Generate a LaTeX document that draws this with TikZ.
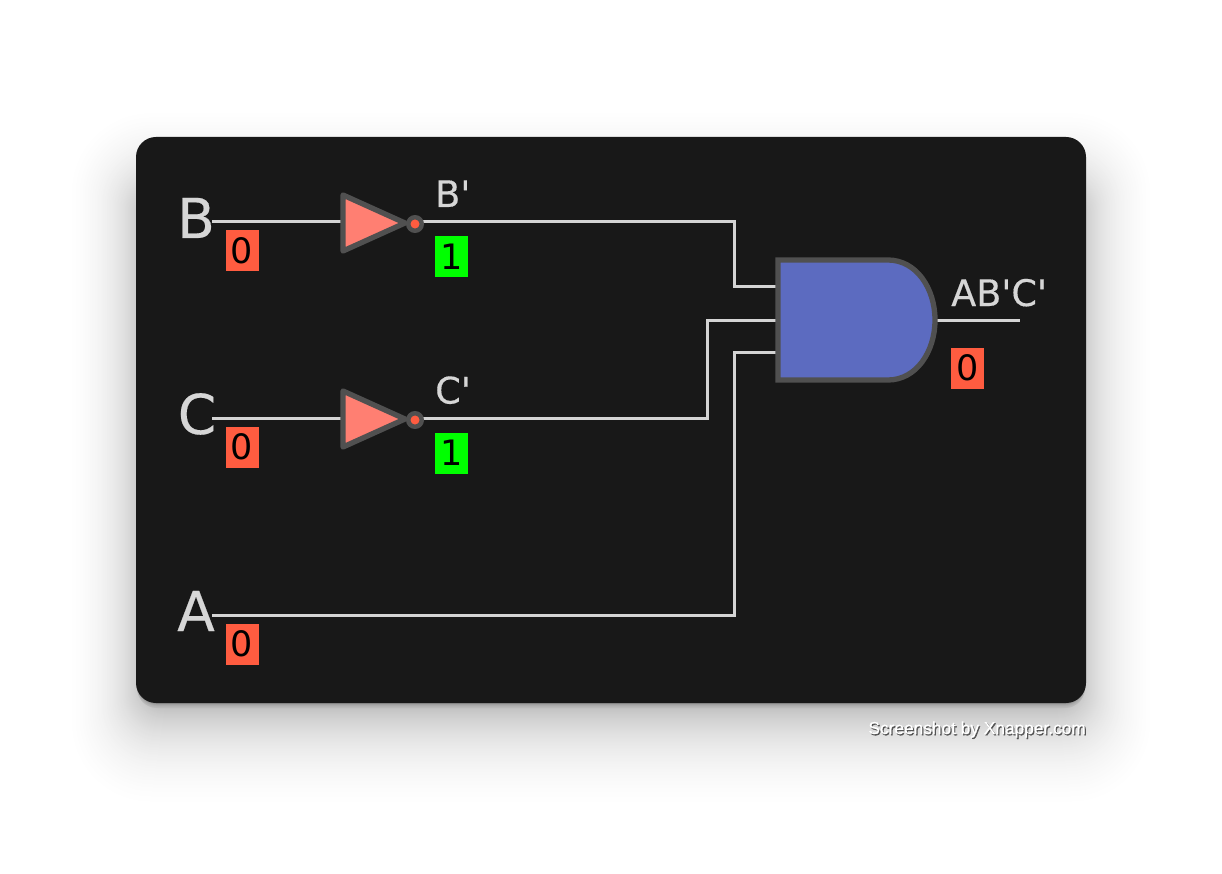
\documentclass[tikz,border=0pt]{standalone}
\usepackage{fontspec}
\setmainfont{DejaVu Sans}
\newfontfamily\markfont{Liberation Sans}[FakeBold=0.25]
\newfontfamily\labfont{DejaVu Sans}[FakeBold=0.35]
\usetikzlibrary{calc}
\definecolor{card}{HTML}{181818}
\definecolor{wirec}{HTML}{D4D4D4}
\definecolor{gateline}{HTML}{505050}
\definecolor{low}{HTML}{FF5C40}
\definecolor{high}{HTML}{00FF00}
\definecolor{invfill}{HTML}{FF7F72}
\definecolor{andfill}{HTML}{5C6BC0}
\definecolor{lab}{HTML}{D6D6D6}
\newcommand{\pr}{\char39 }
\tikzset{
  wire/.style={draw=wirec,line width=3pt,line join=miter},
  biglabel/.style={text=lab,font=\labfont\fontsize{55}{55}\selectfont,inner sep=0pt,anchor=base},
  smalllabel/.style={text=lab,font=\labfont\fontsize{36.6}{36.6}\selectfont,inner sep=0pt,anchor=base west},
  value/.style={font=\fontsize{35}{35}\selectfont,text=black,minimum width=33pt,minimum height=41pt,inner sep=0pt},
  lowv/.style={value,fill=low},
  highv/.style={value,fill=high},
  gatebox/.style={inner sep=0pt,outer sep=0pt,minimum width=#1},
  gateedge/.style={draw=gateline,line width=5.3pt,line join=round},
  bubble/.style={circle,draw=gateline,line width=4.5pt,fill=low,minimum size=13.5pt,inner sep=0pt,outer sep=0pt},
}
\begin{document}
\begin{tikzpicture}[x=1pt,y=-1pt]
\useasboundingbox (0,0) rectangle (1222,874);
\fill[white] (0,0) rectangle (1222,874);
% soft shadow, as opaque grey layers from the outside in
\foreach \g in {100,99,...,0}{
  \pgfmathsetmacro{\T}{max(0,30*exp(-\g/45)-3.2)}
  \pgfmathsetmacro{\R}{20+0.6*\g}
  \fill[black!\T!white,rounded corners=\R pt]
    ({146-0.75*\g},{197-0.85*\g}) rectangle ({1076+0.75*\g},{703+\g});
}
\foreach \g/\T in {5/27,4/29,3/32,2/36,1/42}{
  \fill[black!\T!white,rounded corners=20pt]
    ({136+1},{300}) rectangle ({1086-1},{703+\g});
}
\fill[card,rounded corners=20pt] (136,137) rectangle (1086,703);

% anchors of the gates
\node[gatebox=65pt,minimum height=60pt] (invB) at (374,224) {};
\node[gatebox=65pt,minimum height=60pt] (invC) at (374,420) {};
\node[gatebox=157pt,minimum height=120pt] (andg) at (856.5,320) {};
\coordinate (p1) at (andg.west |- 0,287);
\coordinate (p2) at (andg.west |- 0,320);
\coordinate (p3) at (andg.west |- 0,352);
\coordinate (out) at (1020,320);

% labels
\node[biglabel] (B) at (196,238) {B};
\node[biglabel] (C) at (197,434) {C};
\node[biglabel] (A) at (196,631) {A};
\node[smalllabel] (Bn) at (435,207) {B\pr};
\node[smalllabel] (Cn) at (435,403.5) {C\pr};
\node[smalllabel] (Y) at (951,306) {AB\pr C\pr};
\node[lowv] (vB) at (242,251) {0};
\node[lowv] (vC) at (242,447) {0};
\node[lowv] (vA) at (242,644) {0};
\node[highv] (vBn) at (451.5,257) {1};
\node[highv] (vCn) at (451.5,453) {1};
\node[lowv] (vY) at (967.5,368) {0};

% wires
\coordinate (bI) at (invB.west |- 0,222);
\coordinate (cI) at (invC.west |- 0,418);
\coordinate (bO) at (423,222);
\coordinate (cO) at (423,418);
\coordinate (aS) at (212,615);
\coordinate (bS) at (212,222);
\coordinate (cS) at (212,418);
\draw[wire] (bS) -- (bI);
\draw[wire] (cS) -- (cI);
\draw[wire] (bO) -| (734,287) -- (p1);
\draw[wire] (cO) -| (707,320) -- (p2);
\draw[wire] (aS) -| (734,352) -- (p3);
\draw[wire] (andg.east) -- (out);

% inverters
\foreach \n/\dy in {invB/0,invC/196}{
  \filldraw[fill=invfill,gateedge] (343,{195+\dy}) -- (343,{251+\dy}) -- (405,{223+\dy}) -- cycle;
  \node[bubble] at (415,{224+\dy}) {};
}
% AND gate
\filldraw[fill=andfill,gateedge,line join=miter]
  (andg.north west) -- (888,260)
  .. controls (916,260) and (935,288) .. (935,320)
  .. controls (935,352) and (916,380) .. (888,380)
  -- (andg.south west) -- cycle;

% watermark
\node[text=black!75,opacity=.85,font=\markfont\fontsize{17.3}{17.3}\selectfont,inner sep=0pt,anchor=base east] at (1087.2,735.4) {Screenshot by Xnapper.com};
\node[text=white,font=\markfont\fontsize{17.3}{17.3}\selectfont,inner sep=0pt,anchor=base east] (mark) at (1086,734) {Screenshot by Xnapper.com};
\end{tikzpicture}
\end{document}
